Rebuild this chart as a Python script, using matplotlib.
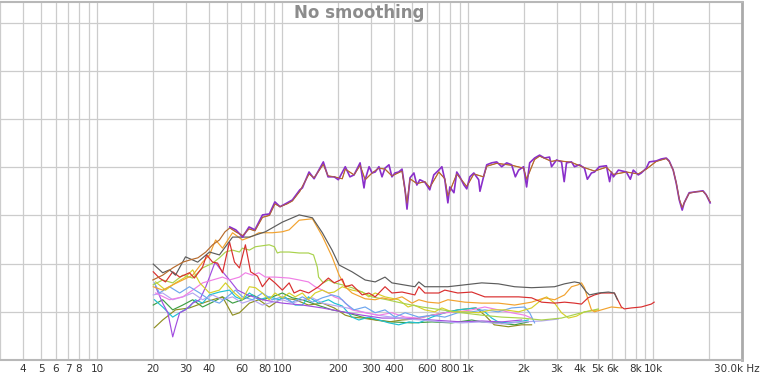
import matplotlib
matplotlib.use('Agg')
from matplotlib import pyplot as plt

# purple measurement (noisy top trace) and the brown trace drawn under it
purple_f = [52, 56, 61, 66, 71, 78, 85, 91, 97, 106, 113, 124, 128, 139, 148, 166, 176, 190,
            200, 218, 231, 243, 262, 275, 279, 293, 304, 316, 331, 344, 357, 375, 389, 404,
            423, 441, 458, 469, 487, 511, 530, 550, 585, 622, 654, 696, 723, 750, 779, 798,
            840, 870, 904, 951, 985, 1023, 1075, 1142, 1160, 1213, 1262, 1342, 1428, 1519,
            1616, 1719, 1800, 1875, 1994, 2070, 2150, 2286, 2432, 2587, 2752, 2821, 3001,
            3193, 3300, 3397, 3614, 3750, 3990, 4244, 4400, 4629, 4807, 5110, 5574, 5800,
            5930, 6083, 6470, 7140, 7500, 7780, 8280, 8596, 9145, 9490, 10350, 11011, 11714,
            12150, 12770, 13258, 13770, 14280, 14640, 15570, 16982, 18490, 19220, 20200]
purple_db = [67.6, 67.0, 65.5, 67.6, 67.0, 70.1, 70.3, 72.8, 71.8, 72.6, 73.2, 75.3, 75.7,
             79.0, 77.6, 81.1, 78.0, 78.0, 77.4, 80.1, 78.0, 78.4, 80.9, 75.7, 77.4, 80.1,
             78.8, 79.0, 80.1, 78.0, 79.8, 80.5, 78.0, 78.8, 79.0, 79.6, 75.3, 71.3, 77.8,
             78.8, 76.3, 77.4, 76.9, 75.3, 78.4, 79.4, 80.1, 77.4, 72.6, 75.9, 74.7, 79.0,
             78.0, 76.3, 75.5, 78.0, 78.8, 77.4, 75.0, 78.0, 80.5, 80.9, 81.1, 80.1, 80.9,
             80.5, 78.0, 79.4, 80.1, 75.9, 80.9, 81.9, 82.5, 81.9, 82.1, 80.1, 81.5, 81.1,
             77.0, 80.9, 81.1, 80.1, 80.5, 79.8, 77.5, 78.8, 79.0, 80.1, 80.3, 77.0, 79.0,
             78.0, 79.4, 79.0, 77.5, 79.4, 78.4, 78.8, 79.8, 81.1, 81.3, 81.7, 81.9, 81.3,
             79.4, 76.7, 73.2, 71.1, 72.6, 74.7, 74.9, 75.1, 74.3, 72.6]

brown_f = [20, 22.6, 25.6, 29, 32, 35, 38.6, 42, 45.7, 49, 52, 56, 61, 66, 71, 78, 85, 91, 97,
           106, 113, 124, 139, 148, 166, 176, 190, 210, 218, 243, 262, 279, 304, 331, 357,
           389, 441, 469, 487, 530, 585, 622, 696, 750, 779, 870, 985, 1075, 1213, 1262,
           1428, 1719, 1994, 2070, 2286, 2432, 2821, 3001, 3614, 4244, 4807, 5574, 6083,
           7140, 8280, 9145, 10350, 11714, 12150, 12770, 13258, 13770, 14280, 14640, 15570,
           16982, 18490, 19220, 20200]
brown_db = [56.6, 57.6, 59.1, 60.3, 60.8, 61.2, 62.4, 63.9, 64.9, 66.6, 67.4, 66.6, 65.8,
            67.2, 66.8, 69.6, 70.0, 72.4, 71.8, 72.4, 73.0, 75.0, 78.6, 77.8, 80.6, 78.2,
            78.0, 77.6, 79.6, 78.4, 80.4, 77.4, 78.8, 79.8, 79.6, 78.2, 79.2, 72.5, 77.6,
            76.6, 77.0, 75.8, 79.0, 77.6, 74.0, 78.6, 76.0, 78.6, 78.0, 80.2, 80.8, 80.4,
            79.8, 77.5, 81.6, 82.3, 81.2, 81.4, 81.0, 79.9, 79.2, 80.0, 78.5, 79.0, 78.6,
            79.6, 81.2, 81.8, 81.2, 79.4, 76.8, 73.4, 71.6, 72.6, 74.6, 74.9, 75.0, 74.3, 72.8]

gray_f = [20.1, 22.6, 24.6, 26.5, 30, 34.9, 40.4, 45.7, 53.8, 66.3, 80.9, 99.8, 123, 145, 164,
          185, 202, 237, 279, 316, 357, 389, 517, 543, 585, 779, 962, 1186, 1456, 1784, 2202,
          2930, 3315, 3750, 3990, 4351, 4517, 5047, 5711, 6152, 6391]
gray_db = [59.9, 58.1, 58.7, 57.6, 61.4, 60.3, 62.4, 61.8, 65.5, 65.5, 66.6, 68.6, 70.1, 69.5,
           66.4, 62.8, 59.7, 58.3, 56.6, 56.2, 57.2, 56.0, 55.2, 56.2, 55.2, 55.2, 55.6, 56.0,
           55.8, 55.2, 55.0, 55.2, 55.8, 56.2, 56.0, 54.1, 53.5, 53.9, 54.1, 53.9, 52.5]

red_f = [20.1, 21.7, 23.4, 25.6, 27.9, 31.5, 33.5, 37.1, 39, 42, 44.7, 47.5, 51.8, 55.1, 58.6,
         63.1, 67.3, 73.3, 77.9, 84.8, 91.1, 99.8, 108.6, 115.5, 124.4, 138.4, 156.5, 176.8,
         190, 210, 218, 237, 269, 292, 316, 357, 389, 441, 517, 543, 585, 696, 750, 881,
         1048, 1232, 1456, 1875, 2202, 2493, 2930, 3315, 3750, 4090, 4440, 4810, 5239, 6152,
         6711, 6960, 7595, 8596, 9729, 10080]
red_db = [58.3, 57.0, 56.2, 58.3, 57.2, 58.1, 57.0, 59.3, 61.8, 60.3, 60.1, 58.1, 64.5, 60.3,
          59.1, 63.9, 58.3, 57.4, 55.2, 57.0, 56.0, 54.5, 56.0, 53.9, 54.5, 53.9, 55.2, 57.0,
          56.0, 56.8, 55.2, 55.6, 53.5, 53.9, 53.1, 55.2, 53.9, 54.1, 53.5, 55.2, 53.9, 53.9,
          54.5, 53.9, 54.1, 53.1, 53.1, 53.1, 52.9, 52.0, 51.8, 52.0, 51.8, 51.6, 52.9, 53.5,
          53.9, 53.9, 51.0, 50.6, 50.8, 51.0, 51.6, 52.0]

orange_f = [20.1, 22.6, 25.6, 29, 32.8, 37.1, 40.4, 43.6, 47.5, 53.8, 60.8, 68.9, 74.5, 88.2,
            99.8, 108.6, 123, 145, 164, 185, 202, 218, 237, 279, 316, 344, 389, 441, 499,
            543, 608, 696, 779, 962, 1186, 1456, 1784, 2202, 2587, 2930, 3315, 3614, 3920,
            4090, 4244, 4440, 4629, 4807, 5239, 5930, 6711]
orange_db = [55.2, 54.5, 55.6, 56.6, 57.6, 60.3, 61.8, 64.9, 63.2, 66.4, 64.9, 65.7, 66.4,
             66.4, 66.6, 67.0, 69.0, 69.3, 65.7, 61.4, 57.6, 55.2, 53.9, 52.7, 52.5, 52.9,
             52.5, 53.1, 51.8, 52.5, 52.0, 51.8, 52.5, 52.0, 51.8, 51.8, 51.4, 52.0, 52.9,
             52.5, 53.5, 55.2, 55.6, 56.0, 55.0, 52.5, 50.4, 50.0, 50.4, 51.0, 50.8]

lgreen_f = [20.1, 22.6, 25.6, 29, 32.8, 37.1, 42, 45.7, 49.3, 53.8, 58.6, 60.8, 66.3, 71.5,
            77.9, 84.8, 90.4, 93.8, 97.3, 108.6, 123, 138, 147, 154, 156.5, 166, 177, 190,
            210, 237, 269, 304, 366, 441, 564, 723, 926, 1186, 1519, 1946, 2493, 3193, 4090,
            5047]
lgreen_db = [55.6, 56.6, 56.0, 57.6, 57.0, 59.1, 60.1, 61.2, 62.4, 62.8, 62.4, 63.2, 62.8,
             63.5, 63.7, 63.9, 63.5, 62.2, 62.4, 62.4, 62.2, 62.2, 61.8, 59.3, 57.2, 56.0,
             56.6, 56.0, 55.6, 55.0, 54.1, 53.1, 52.5, 51.8, 51.0, 50.4, 49.8, 49.3, 48.9,
             48.7, 48.3, 48.7, 49.8, 50.6]

yellow_f = [20.7, 23.4, 26.5, 30, 32.8, 35.8, 40.4, 45.7, 49.3, 55.1, 60.8, 66.3, 71.5, 77.9,
            84.8, 91.1, 99.8, 108.6, 117, 128, 138, 150, 164, 177, 190, 210, 237, 269, 292,
            316, 357, 423, 475, 511, 585, 662, 723, 818, 962, 1142, 1342, 1583, 1875, 2202,
            2493, 2652, 2930, 3193, 3480, 3845, 4244, 5047]
yellow_db = [56.2, 54.5, 56.0, 57.2, 58.7, 56.0, 53.9, 54.5, 56.0, 53.9, 52.5, 55.2, 55.0,
             53.9, 52.5, 53.9, 52.9, 53.9, 53.1, 53.9, 52.5, 53.9, 54.5, 53.9, 54.1, 55.2,
             54.5, 54.1, 53.1, 53.9, 53.1, 52.5, 51.0, 51.4, 50.4, 50.0, 50.8, 50.0, 50.0,
             49.8, 50.4, 50.4, 50.0, 50.8, 52.5, 53.1, 51.8, 49.8, 48.7, 49.1, 50.0, 50.4]

blue_f = [20.4, 21.7, 24.6, 27.9, 31.5, 35.8, 40.4, 45.7, 51.8, 55.8, 60.8, 68.9, 77.9, 88.2,
          99.8, 113, 128, 145, 164, 185, 202, 218, 243, 279, 316, 357, 404, 458, 543, 639,
          750, 881, 1048, 1232, 1456, 1719, 2018, 2150, 2286]
blue_db = [56.0, 53.9, 55.2, 53.9, 55.2, 53.9, 52.5, 51.8, 53.5, 54.5, 53.1, 52.5, 53.9, 52.5,
           53.1, 52.0, 53.1, 52.0, 52.9, 53.5, 53.1, 51.8, 50.4, 51.0, 49.8, 50.4, 48.9, 49.8,
           48.9, 49.3, 48.9, 49.8, 50.0, 50.4, 50.0, 50.8, 51.0, 49.8, 47.7]

pink_f = [20.7, 24.6, 29, 32.8, 37.1, 42, 47.5, 51.8, 58.6, 63.1, 68.9, 74.5, 80.9, 91.1,
          108.6, 123, 138, 150, 164, 177, 190, 210, 237, 279, 331, 389, 458, 543, 639, 750,
          881, 1048, 1232, 1456, 1719, 2018, 2202]
pink_db = [53.9, 52.5, 53.1, 54.5, 56.0, 56.6, 57.2, 56.6, 57.2, 58.1, 57.6, 58.1, 57.2, 57.2,
           57.0, 56.6, 56.2, 55.2, 54.5, 53.9, 53.1, 52.5, 50.4, 49.8, 49.3, 49.8, 48.9, 48.7,
           49.3, 49.8, 50.0, 50.4, 51.0, 50.4, 49.8, 49.3, 48.7]

lavender_f = [20.1, 22.6, 25.6, 29, 32.8, 37.1, 42, 47.5, 53.8, 60.8, 68.9, 77.9, 88.2, 99.8,
              113, 128, 145, 164, 185, 223, 269, 323, 389, 469, 564, 723, 926, 1186, 1519,
              1946, 2493, 3070]
lavender_db = [53.5, 53.9, 52.5, 53.1, 53.9, 52.5, 53.5, 52.5, 53.1, 51.8, 52.5, 51.4, 52.0,
               52.5, 51.8, 52.5, 52.9, 51.8, 51.4, 50.8, 50.0, 49.3, 48.9, 48.5, 48.3, 47.9,
               47.7, 47.9, 47.5, 47.9, 48.1, 48.5]

cyan_f = [20.4, 22.6, 25.6, 27.9, 31.5, 33.9, 37.1, 40.4, 45.7, 51.8, 55.8, 60.8, 66.3, 74.5,
          84.8, 96.1, 103, 117, 128, 138, 156.5, 177, 190, 210, 237, 258, 292, 331, 375, 423,
          481, 543, 639, 750, 881, 1102, 1232, 1342, 1456, 1650, 1875, 2113]
cyan_db = [52.5, 51.0, 48.9, 49.8, 51.0, 52.5, 51.8, 53.5, 54.1, 54.5, 53.1, 52.5, 53.9, 52.5,
           53.1, 52.5, 53.1, 51.4, 51.4, 53.1, 51.8, 52.5, 51.8, 51.2, 48.9, 48.3, 48.9, 48.3,
           47.7, 47.3, 47.9, 47.7, 48.9, 49.8, 50.4, 50.8, 50.0, 48.7, 47.9, 47.7, 47.9, 48.3]

olive_f = [20.4, 22.6, 26.5, 31.5, 37.1, 42, 47.5, 53.8, 58.6, 66.3, 74.5, 84.8, 99.8, 117,
           138, 164, 190, 218, 237, 269, 316, 375, 441, 517, 639, 750, 881, 1102, 1232, 1385,
           1650, 1946, 2202]
olive_db = [46.7, 48.3, 50.4, 50.8, 51.8, 52.5, 53.1, 49.3, 49.8, 51.8, 52.5, 51.0, 52.9, 52.5,
            51.4, 51.8, 50.8, 49.3, 48.9, 48.7, 48.3, 47.9, 48.3, 48.5, 49.3, 49.8, 50.4, 50.8,
            49.3, 47.3, 46.9, 47.3, 47.3]

violet_f = [20.7, 22.6, 24.1, 25.6, 26.5, 27.9, 30, 32.8, 35.8, 38.6, 40.4, 43.3, 45.7, 51.8,
            57.2, 64.7, 77.9, 99.8, 128, 164, 210, 269, 344, 441, 639, 926, 1186, 1519, 1946]
violet_db = [55.2, 51.8, 49.8, 44.8, 46.9, 49.8, 50.4, 51.8, 52.5, 55.2, 57.2, 60.3, 59.1, 56.6,
             54.5, 53.5, 52.5, 51.8, 51.4, 50.8, 50.0, 49.3, 48.7, 48.7, 48.3, 47.9, 48.1, 47.9,
             48.3]

green_f = [20.1, 22.6, 25.6, 29, 32.8, 37.1, 42, 47.5, 53.8, 60.8, 68.9, 77.9, 88.2, 99.8, 113,
           128, 154, 185, 223, 269, 323, 389, 499, 639, 818, 1048, 1186, 1456, 1784, 2113]
green_db = [51.4, 52.5, 50.4, 51.4, 52.5, 51.0, 52.0, 53.1, 51.8, 52.5, 53.5, 52.5, 53.1, 53.9,
            52.9, 52.5, 51.4, 50.4, 49.8, 48.9, 48.3, 47.9, 47.7, 47.9, 47.7, 48.3, 47.9, 47.7,
            47.3, 47.9]

major_ticks = [4, 5, 6, 7, 8, 10, 20, 30, 40, 60, 80, 100, 200, 300, 400, 600, 800,
               1000, 2000, 3000, 4000, 5000, 6000, 8000, 10000]
major_labels = ['4', '5', '6', '7', '8', '10', '20', '30', '40', '60', '80', '100', '200',
                '300', '400', '600', '800', '1k', '2k', '3k', '4k', '5k', '6k', '8k', '10k']
minor_ticks = [9, 50, 70, 90, 500, 700, 900, 7000, 9000, 20000]
db_grid = [50, 60, 70, 80, 90, 100, 110]

traces = [
    (green_f, green_db, '#3f9f45'),
    (olive_f, olive_db, '#8f8f22'),
    (cyan_f, cyan_db, '#1fc0d2'),
    (violet_f, violet_db, '#a24ee0'),
    (lavender_f, lavender_db, '#b5a6f2'),
    (pink_f, pink_db, '#f07fe6'),
    (blue_f, blue_db, '#6ea6ee'),
    (yellow_f, yellow_db, '#d6d02a'),
    (lgreen_f, lgreen_db, '#a9d24c'),
    (orange_f, orange_db, '#f2a22e'),
    (red_f, red_db, '#d92e2e'),
    (gray_f, gray_db, '#5c5c5c'),
    (brown_f, brown_db, '#b66a2c'),
]

fig = plt.figure(figsize=(7.6, 3.77), dpi=100)
ax = fig.add_axes([0, 17 / 377, 742 / 760, 358 / 377])

for f, db, c in traces:
    ax.plot(f, db, color=c, lw=0.85)
ax.plot(purple_f, purple_db, color='#8a2fca', lw=1.2, zorder=5)
ax.plot(brown_f[10:], brown_db[10:], color='#b66a2c', lw=0.5, zorder=6)

ax.set_xscale('log')
ax.set_xlim(3.128, 30000)
ax.set_ylim(40, 114.27)

ax.set_xticks(major_ticks)
ax.set_xticklabels(major_labels)
# gridline at 3 Hz sits on the cropped left edge, keep it without a label
ax.set_xticks(minor_ticks + [3], minor=True)
ax.set_yticks(db_grid)
ax.grid(True, which='both', color='#cccccc', lw=0.9)
ax.set_axisbelow(True)
ax.tick_params(axis='x', which='both', length=0, pad=3, labelsize=7.5, labelcolor='#333333')
ax.tick_params(axis='y', length=0, labelleft=False)

ax.spines['left'].set_visible(False)
ax.spines['top'].set_color('#b8b8b8')
ax.spines['top'].set_linewidth(1.5)
ax.spines['bottom'].set_color('#b8b8b8')
ax.spines['bottom'].set_linewidth(1.5)
ax.spines['right'].set_color('#aaaaaa')
ax.spines['right'].set_linewidth(2)

fig.text(737 / 760, 1 - 369 / 377, '30.0k Hz', ha='center', va='center',
         fontsize=7.5, color='#333333')
fig.text(359 / 760, 1 - 13 / 377, 'No smoothing', ha='center', va='center',
         fontsize=12, fontweight='bold', color='#8c8c8c')

fig.savefig('out.png', dpi=100)
